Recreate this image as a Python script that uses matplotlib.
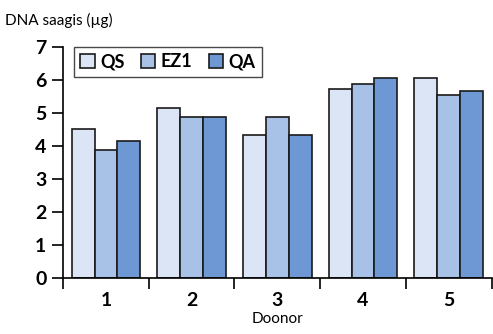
import matplotlib
matplotlib.use("Agg")
import matplotlib.pyplot as plt
import numpy as np

donors = ["1", "2", "3", "4", "5"]
qs = [4.52, 5.14, 4.32, 5.72, 6.05]
ez1 = [3.89, 4.87, 4.87, 5.89, 5.54]
qa = [4.16, 4.87, 4.32, 6.05, 5.66]
series_names = ["QS", "EZ1", "QA"]
colors = ["#dce5f5", "#a8c1e6", "#6d98d4"]

plt.rcParams['font.family'] = ['Lato', 'DejaVu Sans']

fig = plt.figure(figsize=(4.93, 3.34), dpi=100)
ax = fig.add_axes([0.128, 0.168, 0.869, 0.691])

x = np.arange(1, len(donors) + 1)
w = 0.267
for i, (vals, c, name) in enumerate(zip([qs, ez1, qa], colors, series_names)):
    ax.bar(x + (i - 1) * w, vals, width=w, color=c, edgecolor="#1a1a1a",
           linewidth=1.2, label=name)

ax.set_xlim(0.5, 5.5)
ax.set_ylim(0, 7)
ax.set_yticks(range(8))
ax.set_xticks(np.arange(0.5, 6, 1))
ax.set_xticklabels([])
ax.set_xticks(x, minor=True)
ax.set_xticklabels(donors, minor=True)
ax.tick_params(axis="x", which="minor", length=0, pad=10)
ax.tick_params(axis="x", which="major", length=8, width=1.2, direction="out")
ax.tick_params(axis="y", length=8, width=1.2, pad=4)
for lab in ax.get_yticklabels() + ax.get_xticklabels(minor=True):
    lab.set_fontsize(14)
    lab.set_fontweight("bold")
for s in ["top", "right"]:
    ax.spines[s].set_visible(False)
for s in ["left", "bottom"]:
    ax.spines[s].set_linewidth(1.2)

leg = ax.legend(loc="upper left", bbox_to_anchor=(0.025, 1.0), borderaxespad=0,
                ncol=3, frameon=True,
                fancybox=False, edgecolor="#1a1a1a", handlelength=0.8, handleheight=0.8,
                handletextpad=0.3, columnspacing=0.9, borderpad=0.35,
                prop={"size": 13, "weight": "bold"})
leg.get_frame().set_linewidth(1.0)

ax.set_xlabel("Doonor", fontsize=11, labelpad=2)
fig.text(0.01, 0.94, "DNA saagis (µg)", fontsize=11, ha="left", va="center")

fig.savefig("out.png", dpi=100)
